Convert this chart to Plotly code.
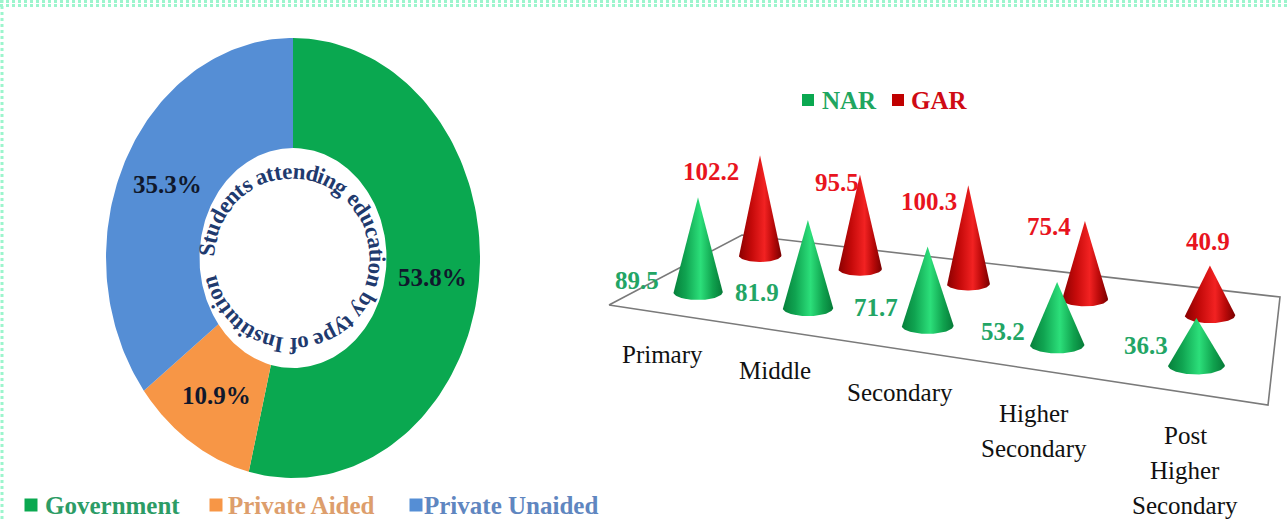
import numpy as np
import plotly.graph_objects as go

# ---- data ----
institution_types = ["Government", "Private Aided", "Private Unaided"]
institution_share = [53.8, 10.9, 35.3]
institution_colors = ["#0aa850", "#f79646", "#558ed5"]
legend_text_colors = ["#2c9c66", "#dd9e6c", "#5f86c0"]
ring_title = "Students attending education by type of Institution"

levels = ["Primary", "Middle", "Secondary", "Higher<br>Secondary", "Post<br>Higher<br>Secondary"]
nar = [89.5, 81.9, 71.7, 53.2, 36.3]
gar = [102.2, 95.5, 100.3, 75.4, 40.9]

SERIF = "Liberation Serif"
W, H = 1287, 522
fig = go.Figure()
ann = []


def text(x, y, s, size, color, bold=True, angle=0, xanchor="center"):
    ann.append(dict(x=x, y=y, text=s, showarrow=False, textangle=angle, xanchor=xanchor, yanchor="middle",
                    font=dict(family=SERIF, size=size, color=color, weight=700 if bold else 400)))


# ---- donut (stretched vertically, so drawn on the pixel-scaled axes) ----
CX, CY, RX, RY = 293, 258, 187, 220
HOLE = 0.5
start = 0.0
for name, share, color in zip(institution_types, institution_share, institution_colors):
    th = np.radians(np.linspace(start, start + share * 3.6, 120))
    ox, oy = CX + RX * np.sin(th), CY - RY * np.cos(th)
    ix, iy = CX + RX * HOLE * np.sin(th[::-1]), CY - RY * HOLE * np.cos(th[::-1])
    fig.add_trace(go.Scatter(x=np.r_[ox, ix, ox[0]], y=np.r_[oy, iy, oy[0]], mode="lines", fill="toself",
                             fillcolor=color, line=dict(width=0, color=color), name=name, hoverinfo="name"))
    mid = np.radians(start + share * 1.8)
    text(CX + 0.75 * RX * np.sin(mid), CY - 0.75 * RY * np.cos(mid), f"{share}%", 25, "#10182c")
    start += share * 3.6

# curved ring title, one real text character at a time
ADV = dict(S=556, t=333, u=556, d=556, e=444, n=556, s=389, a=500, i=278, g=500, c=444, o=500, b=556,
           y=500, p=556, f=333, I=389)
adv = np.array([ADV.get(c, 250) for c in ring_title], float)
pos = (np.cumsum(adv) - adv / 2) / adv.sum()
for c, p in zip(ring_title, pos):
    if c == " ":
        continue
    deg = 271 + p * 347
    a = np.radians(deg)
    text(292 + 85 * np.sin(a), 258 - 87 * np.cos(a), c, 23, "#1f3a6e", angle=((deg + 180) % 360) - 180)

# donut legend
fig.add_trace(go.Scatter(x=[31, 216, 416], y=[505, 505, 505], mode="markers", hoverinfo="skip",
                         marker=dict(symbol="square", size=13, color=institution_colors)))
txt_x = [43, 226, 422]
for x, name, color in zip(txt_x, institution_types, legend_text_colors):
    text(x, 505, name, 25, color, xanchor="left")

# ---- cone chart plane ----
plane_x = [609, 742, 1280, 1268, 609]
plane_y = [305, 235, 297, 405, 305]
fig.add_trace(go.Scatter(x=plane_x, y=plane_y, mode="lines", line=dict(color="#7a7a7a", width=1.6), hoverinfo="skip"))

GREEN = [[0, "#06803b"], [0.25, "#10a451"], [0.55, "#2cdf7a"], [0.8, "#10a24e"], [1, "#067a38"]]
RED = [[0, "#8a0000"], [0.3, "#c50a0a"], [0.6, "#f22222"], [0.8, "#bb0a0a"], [1, "#780000"]]


def cone(i, value, series):
    if series == "NAR":
        cx, bottom = 698 + 105 * i + 4.9 * i * i, 300 + 15.3 * i + 0.83 * i * i
        height, rx, grad = 25 + 0.87 * value, 31 - 0.07 * value, GREEN
    else:
        cx, bottom = 760 + 95.8 * i + 4.17 * i * i, 262 + 13.3 * i + 0.5 * i * i
        height, rx, grad = 25 + 0.8 * value, 0.9 * (31 - 0.07 * value), RED
    ry = 0.32 * rx
    t = np.linspace(np.pi, 0, 50)
    xs = np.r_[cx, cx + rx * np.cos(t), cx]
    ys = np.r_[bottom - height, bottom - ry + ry * np.sin(t), bottom - height]
    fig.add_trace(go.Scatter(x=xs, y=ys, mode="lines", fill="toself", line=dict(width=0), name=f"{series} {levels[i]}",
                             text=f"{series}: {value}", hoverinfo="text",
                             fillgradient=dict(type="horizontal", colorscale=grad)))


for i in range(len(levels)):
    cone(i, gar[i], "GAR")
    cone(i, nar[i], "NAR")

# value labels
gar_lab = [(711, 171), (837, 182), (929, 201), (1049, 226), (1208, 241)]
nar_lab = [(637, 280), (757, 292), (876, 307), (1003, 331), (1146, 345)]
for (x, y), v in zip(gar_lab, gar):
    text(x, y, str(v), 25, "#e8141e")
for (x, y), v in zip(nar_lab, nar):
    text(x, y, str(v), 25, "#22a565")

# category labels (35 px line pitch)
level_pos = [(662, 354), (775, 370), (900, 392), (1034, 413), (1185, 435)]
for (x, y), lab in zip(level_pos, levels):
    for k, line in enumerate(lab.split("<br>")):
        text(x, y + 35 * k, line, 25, "#111111", bold=False)

# cone legend
fig.add_trace(go.Scatter(x=[808, 898], y=[100, 100], mode="markers", hoverinfo="skip",
                         marker=dict(symbol="square", size=12, color=["#0aa850", "#c00000"])))
for x, name, color in [(820, "NAR", "#1fa660"), (909, "GAR", "#cf0a14")]:
    text(x, 100, name, 25, color, xanchor="left")

# dotted page frame
frame = [dict(type="line", x0=0, x1=W, y0=y, y1=y, line=dict(color="#9cf5cd", width=3, dash="dot")) for y in (1.5, 5.5)]
frame += [dict(type="line", x0=x, x1=x, y0=0, y1=H, line=dict(color="#9cf5cd", width=3, dash="dot")) for x in (2,)]

fig.update_layout(width=W, height=H, margin=dict(l=0, r=0, t=0, b=0), showlegend=False,
                  paper_bgcolor="white", plot_bgcolor="white", annotations=ann, shapes=frame,
                  xaxis=dict(range=[0, W], visible=False, fixedrange=True),
                  yaxis=dict(range=[H, 0], visible=False, fixedrange=True))
fig.write_html("out.html", config=dict(displayModeBar=False), post_script="document.body.style.margin='0';")
